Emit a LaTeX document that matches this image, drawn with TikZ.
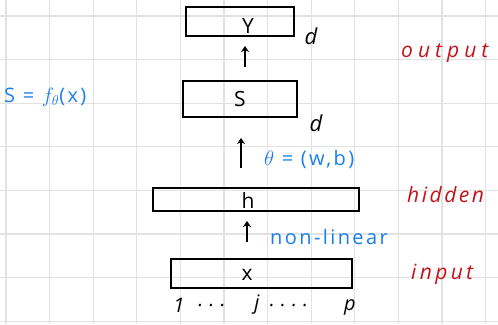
\documentclass[tikz,border=0pt]{standalone}
\usepackage{fontspec}
\setmainfont{Open Sans}
\usetikzlibrary{arrows.meta}
\definecolor{gridc}{HTML}{E2E2E2}
\definecolor{bluet}{HTML}{1A7FE8}
\definecolor{redt}{HTML}{C4141B}
\tikzset{
  layer/.style={draw=black, line width=1.6pt, minimum height=#1, inner sep=0pt},
  lbl/.style={font=\fontsize{21}{21}\selectfont, inner sep=0pt},
  dlbl/.style={font=\fontsize{22}{22}\selectfont\itshape, inner sep=0pt},
  note/.style={font=\fontsize{20}{20}\selectfont\addfontfeatures{LetterSpace=12}, text=bluet, inner sep=0pt},
  side/.style={font=\fontsize{21}{21}\selectfont\itshape\addfontfeatures{LetterSpace=#1}, text=redt, inner sep=0pt},
  side/.default=12,
  idx/.style={font=\fontsize{20}{20}\selectfont\itshape\addfontfeatures{LetterSpace=30}, inner sep=0pt},
  arr/.style={line width=1.6pt, -{Stealth[length=6pt,width=8pt]}},
}
\begin{document}
\begin{tikzpicture}[x=1pt,y=-1pt]
\useasboundingbox (0,0) rectangle (498,324);
\clip (0,0) rectangle (498,324);
\fill[white] (0,0) rectangle (498,324);
% grid
\foreach \i in {0,...,11} {
  \draw[gridc, line width=1.2pt] ({6+43.6*\i},0) -- ({6+43.6*\i},324);
}
\foreach \j in {0,...,7} {
  \draw[gridc, line width=1.2pt] (0,{16+43.6*\j}) -- (498,{16+43.6*\j});
}
% boxes
\node[layer=29pt, minimum width=108pt] (Y) at (240,21.5) {};
\node[layer=36pt, minimum width=114pt] (S) at (240,99) {};
\node[layer=23pt, minimum width=206pt] (H) at (256,199.5) {};
\node[layer=29pt, minimum width=181pt] (X) at (261.5,273.5) {};
% box labels
\node[lbl] (tY) at (248,26) {Y};
\node[lbl] (tS) at (240,99) {S};
\node[lbl] (tH) at (248,201) {h};
\node[lbl] (tX) at (247,275) {x};
% d labels
\node[dlbl] (d1) at (311,36) {d};
\node[dlbl] (d2) at (316,123) {d};
% arrows
\coordinate (a1s) at (245,67);
\coordinate (a1e) at (245,46);
\coordinate (a2s) at (241,168);
\coordinate (a2e) at (241,138);
\coordinate (a3s) at (247,242);
\coordinate (a3e) at (247,221);
\draw[arr] (a1s) -- (a1e);
\draw[arr] (a2s) -- (a2e);
\draw[arr] (a3s) -- (a3e);
% blue notes
\node[note, anchor=west] (sf) at (4,97) {S = $f_\theta$(x)};
\node[note, anchor=west] (th) at (264,159) {$\theta$ = (w,b)};
\node[note, anchor=west] (nl) at (270,237) {non-linear};
% red side labels
\node[side=24, anchor=west] (out) at (401,53) {output};
\node[side, anchor=west] (hid) at (407,195) {hidden};
\node[side=16, anchor=west] (inp) at (411,274) {input};
% indices
\node[idx] (i1) at (179,305) {1};
\node[idx] (i2) at (212,305) {...};
\node[idx] (i3) at (257,305) {j};
\node[idx] (i4) at (289,305) {....};
\node[idx] (i5) at (350,307) {p};
\end{tikzpicture}
\end{document}
